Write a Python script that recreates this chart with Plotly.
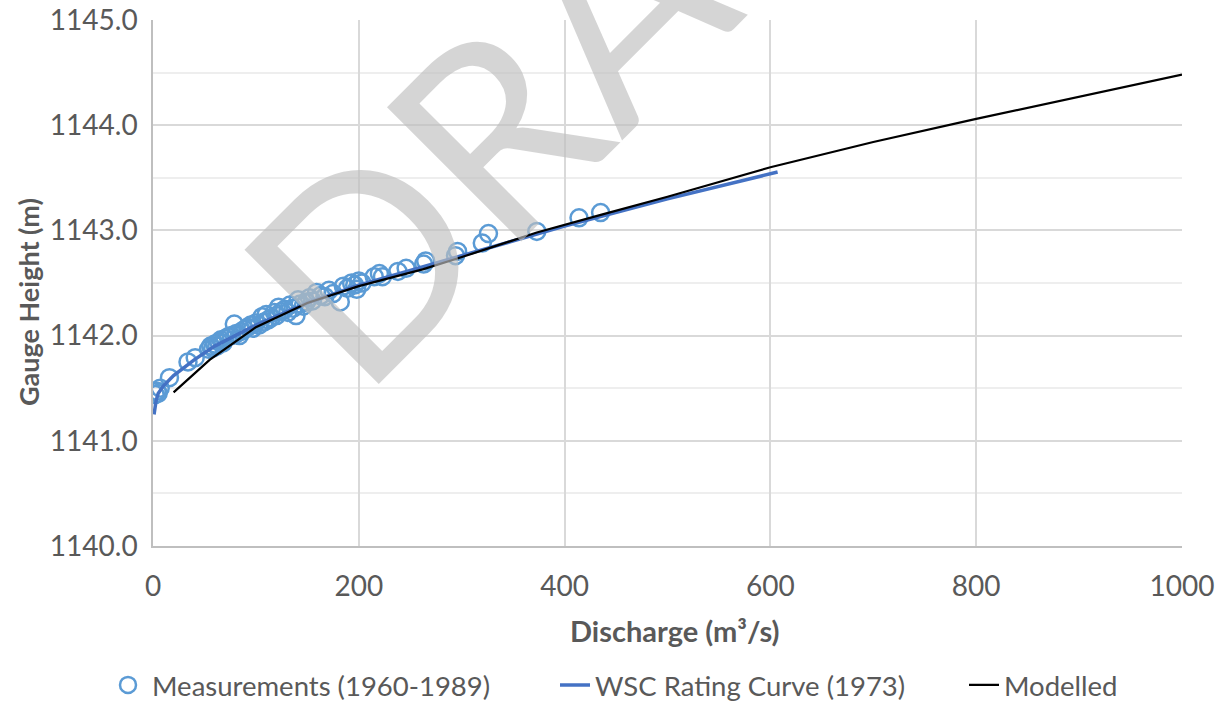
import plotly.graph_objects as go

# Measurements (1960-1989)
meas_q = [2, 4, 5, 7, 16, 34, 41, 54, 56, 58, 60, 62, 64, 66, 68, 70, 73, 76, 79, 81,
          84, 86, 89, 92, 95, 97, 100, 103, 106, 108, 110, 112, 115, 118, 120, 122, 125,
          128, 131, 133, 136, 139, 141, 143, 146, 149, 152, 155, 159, 163, 167, 171, 175,
          182, 185, 189, 193, 196, 198, 200, 203, 215, 220, 223, 238, 246, 263, 265, 294,
          296, 320, 326, 373, 414, 435]
meas_h = [1141.44, 1141.47, 1141.45, 1141.50, 1141.60, 1141.75, 1141.79, 1141.87, 1141.90,
          1141.88, 1141.92, 1141.90, 1141.94, 1141.96, 1141.93, 1141.97, 1141.99, 1142.00,
          1142.11, 1142.02, 1142.00, 1142.04, 1142.06, 1142.08, 1142.10, 1142.07, 1142.12,
          1142.10, 1142.18, 1142.13, 1142.20, 1142.15, 1142.17, 1142.22, 1142.19, 1142.27,
          1142.23, 1142.25, 1142.22, 1142.29, 1142.26, 1142.19, 1142.34, 1142.30, 1142.28,
          1142.32, 1142.36, 1142.33, 1142.41, 1142.38, 1142.37, 1142.43, 1142.40, 1142.32,
          1142.47, 1142.45, 1142.50, 1142.48, 1142.44, 1142.52, 1142.50, 1142.56, 1142.59,
          1142.56, 1142.61, 1142.64, 1142.68, 1142.71, 1142.76, 1142.80, 1142.88, 1142.97,
          1142.99, 1143.12, 1143.17]

# WSC Rating Curve (1973)
wsc_q = [1, 3, 5, 10, 20, 40, 60, 80, 100, 150, 200, 250, 300, 400, 500, 607]
wsc_h = [1141.25, 1141.38, 1141.45, 1141.52, 1141.62, 1141.77, 1141.90, 1142.00, 1142.10,
         1142.31, 1142.48, 1142.62, 1142.76, 1143.04, 1143.30, 1143.555]

# Modelled
mod_q = [20, 55, 100, 150, 200, 262, 295, 373, 436, 500, 600, 700, 800, 900, 1000]
mod_h = [1141.46, 1141.77, 1142.08, 1142.31, 1142.47, 1142.63, 1142.73, 1142.98, 1143.15,
         1143.32, 1143.60, 1143.84, 1144.06, 1144.27, 1144.48]

x_ticks = [0, 200, 400, 600, 800, 1000]
y_ticks = [1140, 1141, 1142, 1143, 1144, 1145]
y_tick_text = ["1140.0", "1141.0", "1142.0", "1143.0", "1144.0", "1145.0"]

FONT = "Lato"
GRAY = "#595959"

fig = go.Figure()
fig.add_trace(go.Scatter(
    x=meas_q, y=meas_h, mode="markers", name="Measurements (1960-1989)",
    marker=dict(symbol="circle-open", size=17, color="#5b9bd5", line=dict(width=2.5, color="#5b9bd5")),
    legend="legend"))
fig.add_trace(go.Scatter(
    x=wsc_q, y=wsc_h, mode="lines", name="WSC Rating Curve (1973)",
    line=dict(color="#4472c4", width=3.5), legend="legend2"))
fig.add_trace(go.Scatter(
    x=mod_q, y=mod_h, mode="lines", name="Modelled",
    line=dict(color="#000000", width=2.25), legend="legend3"))

W, H = 1221, 702
L, R, T, B = 153, 39, 20, 156
pw, ph = W - L - R, H - T - B

def px2x(px):
    return (px - L) / pw

def py2y(py):
    return (H - B - py) / ph

leg_common = dict(orientation="h", yanchor="middle", xanchor="left", bgcolor="rgba(0,0,0,0)",
                  font=dict(family=FONT, size=27.5, color=GRAY), borderwidth=0)

fig.update_layout(
    width=W, height=H,
    margin=dict(l=L, r=R, t=T, b=B, autoexpand=False),
    paper_bgcolor="white", plot_bgcolor="white",
    showlegend=True,
    legend=dict(x=px2x(104), y=py2y(685), itemwidth=38, **leg_common),
    legend2=dict(x=px2x(555), y=py2y(685), **leg_common),
    legend3=dict(x=px2x(964), y=py2y(685), **leg_common),
    xaxis=dict(range=[0, 1000], tickvals=x_ticks, showgrid=True, gridcolor="#d9d9d9", gridwidth=1.5,
               zeroline=False, showline=True, linecolor="#bfbfbf", linewidth=1.5,
               tickfont=dict(family=FONT, size=28, color=GRAY), ticks="", ticklabelstandoff=15),
    yaxis=dict(range=[1140, 1145], tickvals=y_ticks, ticktext=y_tick_text, showgrid=True,
               gridcolor="#d9d9d9", gridwidth=1.5, zeroline=False, showline=True, linecolor="#bfbfbf",
               linewidth=1.5, tickfont=dict(family=FONT, size=28, color=GRAY), ticks="",
               ticklabelstandoff=8,
               minor=dict(dtick=0.5, showgrid=True, gridcolor="#eeeeee", gridwidth=1.5)),
    annotations=[
        dict(text="<b>Discharge (m³/s)</b>", xref="paper", yref="paper", x=px2x(674), y=py2y(630),
             showarrow=False, xanchor="center", yanchor="middle",
             font=dict(family=FONT, size=29, color=GRAY)),
        dict(text="<b>Gauge Height (m)</b>", xref="paper", yref="paper", x=px2x(28), y=py2y(302),
             showarrow=False, xanchor="center", yanchor="middle", textangle=-90,
             font=dict(family=FONT, size=27, color=GRAY)),
        dict(text="DRAFT", xref="paper", yref="paper", x=px2x(590), y=py2y(27),
             showarrow=False, xanchor="center", yanchor="middle", textangle=-45,
             font=dict(family=FONT, size=265, color="rgba(190,190,190,0.65)")),
    ],
)

fig.write_html("out.html")
